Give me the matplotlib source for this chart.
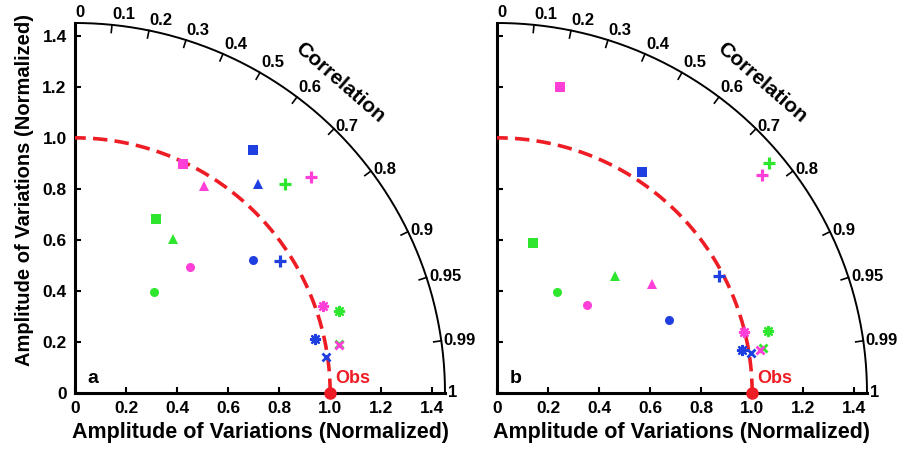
import numpy as np
import matplotlib
matplotlib.use("Agg")
import matplotlib.pyplot as plt

plt.rcParams['font.family'] = ['Liberation Sans', 'DejaVu Sans']
plt.rcParams['font.weight'] = 'bold'

# Marker order for every model group
markers = ['s', '^', 'o', '+', (8, 2, 0), 'x']

# Panel a: normalised standard deviation and correlation per marker
std_a_green = [0.754, 0.715, 0.503, 1.161, 1.082, 1.051]
corr_a_green = [0.422, 0.536, 0.618, 0.710, 0.955, 0.983]
std_a_blue = [1.180, 1.089, 0.871, 0.956, 0.964, 0.994]
corr_a_blue = [0.590, 0.658, 0.800, 0.841, 0.976, 0.990]
std_a_pink = [0.991, 0.957, 0.669, 1.254, 1.028, 1.052]
corr_a_pink = [0.426, 0.529, 0.676, 0.737, 0.944, 0.984]

# Panel b
std_b_green = [0.605, 0.652, 0.461, 1.397, 1.090, 1.058]
corr_b_green = [0.233, 0.709, 0.514, 0.764, 0.975, 0.986]
std_b_blue = [1.036, np.nan, 0.731, 0.982, 0.975, 1.009]
corr_b_blue = [0.548, np.nan, 0.920, 0.884, 0.985, 0.988]
std_b_pink = [1.224, 0.742, 0.493, 1.346, 0.996, 1.044]
corr_b_pink = [0.203, 0.818, 0.714, 0.773, 0.971, 0.987]

# Axis ticks
amp_ticks = [0, 0.2, 0.4, 0.6, 0.8, 1.0, 1.2, 1.4]
amp_labels = ['0', '0.2', '0.4', '0.6', '0.8', '1.0', '1.2', '1.4']
corr_ticks = [0, 0.1, 0.2, 0.3, 0.4, 0.5, 0.6, 0.7, 0.8, 0.9, 0.95, 0.99, 1]
corr_labels = ['0', '0.1', '0.2', '0.3', '0.4', '0.5', '0.6', '0.7', '0.8',
               '0.9', '0.95', '0.99', '1']

RMAX = 1.45
GREEN = '#2ee62e'
BLUE = '#1f3fe0'
PINK = '#ff3fd8'
RED = '#ee1c24'


def taylor_frame(ax, letter, show_ylabels):
    # Quarter-circle frame with amplitude axes and correlation arc
    ax.set_xlim(0, RMAX)
    ax.set_ylim(0, RMAX)
    ax.set_aspect('equal')
    for side in ['top', 'right']:
        ax.spines[side].set_visible(False)
    for side in ['left', 'bottom']:
        ax.spines[side].set_linewidth(2.2)
    ax.set_xticks(amp_ticks)
    ax.set_xticklabels(amp_labels)
    ax.set_yticks(amp_ticks)
    if show_ylabels:
        ax.set_yticklabels(amp_labels)
        ax.set_ylabel('Amplitude of Variations (Normalized)', fontsize=14.5,
                      fontweight='bold')
        ax.yaxis.set_label_coords(-0.11, 0.55)
    else:
        ax.set_yticklabels([])
    ax.tick_params(direction='in', length=4, width=1.5, labelsize=12.5,
                   pad=6)
    ax.set_xlabel('Amplitude of Variations (Normalized)', fontsize=15.5,
                  fontweight='bold', labelpad=4)

    # Outer correlation arc
    theta = np.linspace(0, np.pi / 2, 300)
    ax.plot(RMAX * np.cos(theta), RMAX * np.sin(theta), color='black',
            lw=1.4, clip_on=False)

    # Correlation ticks and labels
    for c, lab in zip(corr_ticks, corr_labels):
        t = np.arccos(c)
        ax.plot([1.42 * np.cos(t), RMAX * np.cos(t)],
                [1.42 * np.sin(t), RMAX * np.sin(t)],
                color='black', lw=1.2, clip_on=False)
        va = 'bottom' if c <= 0.6 else 'center'
        ax.text(1.46 * np.cos(t), 1.46 * np.sin(t), lab, ha='left', va=va,
                fontsize=12, fontweight='bold', clip_on=False)
    ax.text(1.6 * np.cos(np.radians(49.5)), 1.6 * np.sin(np.radians(49.5)),
            'Correlation', rotation=-41, ha='center', va='center',
            fontsize=15, fontweight='bold', rotation_mode='anchor')

    # Reference standard deviation arc
    ax.plot(np.cos(theta), np.sin(theta), color=RED, lw=2.6,
            dashes=(4, 2), clip_on=False, zorder=3)
    ax.plot([1.0], [0.0], 'o', color=RED, ms=8, clip_on=False, zorder=5)
    ax.text(1.02, 0.025, 'Obs', color=RED, fontsize=13, fontweight='bold',
            ha='left', va='bottom')
    ax.text(0.05, 0.025, letter, fontsize=14, fontweight='bold',
            ha='left', va='bottom')


def plot_group(ax, stds, corrs, color):
    # Scatter one model group in Taylor coordinates
    for s, c, m in zip(stds, corrs, markers):
        if np.isnan(s):
            continue
        t = np.arccos(c)
        x, y = s * np.cos(t), s * np.sin(t)
        if m == '+':
            ax.plot(x, y, marker=m, color=color, ms=9, mew=2.3,
                    linestyle='none', zorder=4)
        elif m == 'x':
            ax.plot(x, y, marker=m, color=color, ms=6, mew=2.0,
                    linestyle='none', zorder=4)
        elif isinstance(m, tuple):
            ax.plot(x, y, marker=m, color=color, ms=8, mew=1.6,
                    linestyle='none', zorder=4)
        else:
            ax.plot(x, y, marker=m, color=color, ms=6.5, mew=0,
                    linestyle='none', zorder=4)


def main():
    fig = plt.figure(figsize=(9.03, 4.49), dpi=100)
    w = 370 / 903
    h = 370 / 449
    ax_a = fig.add_axes([75 / 903, 56 / 449, w, h])
    ax_b = fig.add_axes([497 / 903, 56 / 449, w, h])

    taylor_frame(ax_a, 'a', True)
    plot_group(ax_a, std_a_green, corr_a_green, GREEN)
    plot_group(ax_a, std_a_blue, corr_a_blue, BLUE)
    plot_group(ax_a, std_a_pink, corr_a_pink, PINK)

    taylor_frame(ax_b, 'b', False)
    plot_group(ax_b, std_b_green, corr_b_green, GREEN)
    plot_group(ax_b, std_b_blue, corr_b_blue, BLUE)
    plot_group(ax_b, std_b_pink, corr_b_pink, PINK)

    fig.savefig('out.png', dpi=100)


main()
